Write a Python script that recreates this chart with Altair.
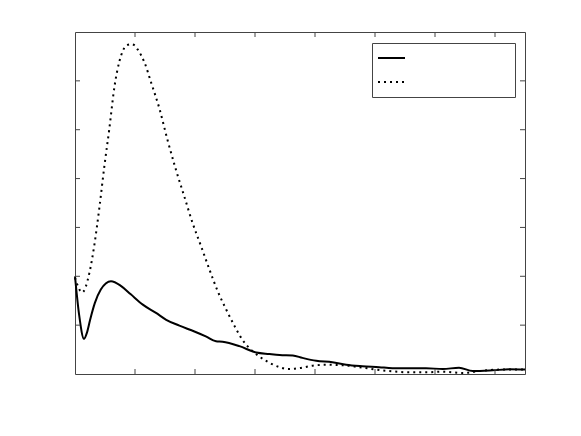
import altair as alt
import pandas as pd

solid_x = [0, 0.07, 0.150, 0.20, 0.25, 0.33, 0.43, 0.6, 0.77, 0.93, 1.13, 1.35, 1.52, 1.74, 1.99, 2.18, 2.35, 2.46, 2.74,
           3.02, 3.24, 3.41, 3.63, 3.79, 4.02, 4.29, 4.52, 4.79, 5.07, 5.29, 5.57, 5.85, 6.13, 6.4,
           6.63, 6.96, 7.24, 7.5]
solid_y = [2.0, 1.2, 0.72, 0.85, 1.1, 1.45, 1.73, 1.90, 1.80, 1.63, 1.42, 1.25, 1.11, 0.99, 0.87, 0.77, 0.67, 0.66, 0.57,
           0.44, 0.41, 0.39, 0.38, 0.33, 0.27, 0.24, 0.19, 0.16, 0.14, 0.12, 0.12, 0.12, 0.10, 0.13,
           0.06, 0.075, 0.096, 0.09]

dot_x = [0, 0.12, 0.24, 0.32, 0.41, 0.49, 0.57, 0.66, 0.74, 0.80, 0.85, 0.93, 0.99, 1.04, 1.10, 1.16, 1.27, 1.41, 1.54,
         1.68, 1.82, 1.96, 2.1, 2.24, 2.38, 2.52, 2.66, 2.79, 2.93, 3.07, 3.24, 3.41, 3.57, 3.74,
         3.96, 4.18, 4.46, 4.74, 5.02, 5.29, 5.57, 5.85, 6.13, 6.47, 6.74, 7.07, 7.5]
dot_y = [1.97, 1.67, 2.07, 2.62, 3.44, 4.26, 5.0, 5.9, 6.40, 6.62, 6.72, 6.75, 6.73, 6.65, 6.53, 6.37, 5.96, 5.42, 4.80,
         4.19, 3.64, 3.09, 2.62, 2.14, 1.69, 1.32, 0.98, 0.70, 0.50, 0.36, 0.23, 0.14, 0.10, 0.12,
         0.17, 0.19, 0.18, 0.14, 0.09, 0.055, 0.034, 0.034, 0.048, 0.02, 0.06, 0.09, 0.09]

x_ticks = [1, 2, 3, 4, 5, 6, 7]
y_ticks = [1, 2, 3, 4, 5, 6]

W, H = 450, 342
frame = "#444444"

xs = alt.Scale(domain=[0, 7.5], nice=False, zero=False)
ys = alt.Scale(domain=[0, 7], nice=False, zero=False)
noax = None

df_s = pd.DataFrame({"x": solid_x, "y": solid_y})
df_d = pd.DataFrame({"x": dot_x, "y": dot_y})
one = pd.DataFrame({"a": [0]})

frame_rect = alt.Chart(one).mark_rect(fill="white", stroke=frame, strokeWidth=1).encode(
    x=alt.value(0.5), x2=alt.value(W + 0.5), y=alt.value(0.5), y2=alt.value(H + 0.5))

solid = alt.Chart(df_s).mark_line(color="black", strokeWidth=2, interpolate="monotone").encode(
    x=alt.X("x:Q", scale=xs, axis=noax), y=alt.Y("y:Q", scale=ys, axis=noax))
dotted = alt.Chart(df_d).mark_line(color="black", strokeWidth=2, strokeDash=[2, 4], interpolate="monotone").encode(
    x=alt.X("x:Q", scale=xs, axis=noax), y=alt.Y("y:Q", scale=ys, axis=noax))

dfx = pd.DataFrame({"t": x_ticks})
dfy = pd.DataFrame({"t": y_ticks})
tb = alt.Chart(dfx).mark_rule(color=frame, strokeWidth=1).encode(
    x=alt.X("t:Q", scale=xs, axis=noax), y=alt.value(H), y2=alt.value(H - 5))
tt = alt.Chart(dfx).mark_rule(color=frame, strokeWidth=1).encode(
    x=alt.X("t:Q", scale=xs, axis=noax), y=alt.value(0), y2=alt.value(5))
tl = alt.Chart(dfy).mark_rule(color=frame, strokeWidth=1).encode(
    y=alt.Y("t:Q", scale=ys, axis=noax), x=alt.value(0), x2=alt.value(5))
tr = alt.Chart(dfy).mark_rule(color=frame, strokeWidth=1).encode(
    y=alt.Y("t:Q", scale=ys, axis=noax), x=alt.value(W), x2=alt.value(W - 5))

# legend box
box = alt.Chart(one).mark_rect(fill="white", stroke=frame, strokeWidth=1).encode(
    x=alt.value(297.5), x2=alt.value(440.5), y=alt.value(11.5), y2=alt.value(65.5))
leg_s = alt.Chart(one).mark_rule(color="black", strokeWidth=2).encode(
    x=alt.value(303), x2=alt.value(330), y=alt.value(26))
leg_d = alt.Chart(one).mark_rule(color="black", strokeWidth=2, strokeDash=[2, 4]).encode(
    x=alt.value(303), x2=alt.value(330), y=alt.value(50))

chart = alt.layer(frame_rect, dotted, solid, tb, tt, tl, tr, box, leg_s, leg_d).properties(
    width=W, height=H,
    autosize=alt.AutoSizeParams(type="none"),
    padding={"left": 67, "top": 24, "right": 40, "bottom": 50},
).configure_view(strokeWidth=0).configure(background="white")

chart.save("out.html", embed_options={"renderer": "svg", "actions": False})
